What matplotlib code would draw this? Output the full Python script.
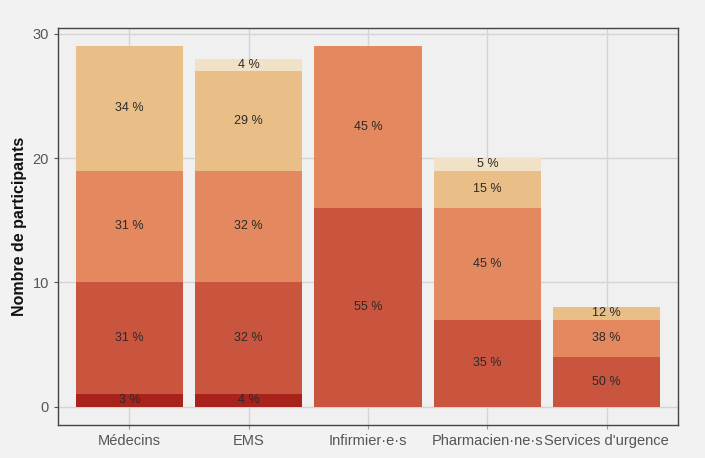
import matplotlib
matplotlib.use('Agg')
import matplotlib.pyplot as plt
import numpy as np

plt.rcParams['font.family'] = ['Liberation Sans', 'DejaVu Sans']

categories = ['Médecins', 'EMS', 'Infirmier·e·s', 'Pharmacien·ne·s', "Services d'urgence"]
# counts per response level, stacked bottom to top
level1 = [1, 1, 0, 0, 0]
level2 = [9, 9, 16, 7, 4]
level3 = [9, 9, 13, 9, 3]
level4 = [10, 8, 0, 3, 1]
level5 = [0, 1, 0, 1, 0]

colors = ['#a9231d', '#c9553f', '#e4895f', '#eabf87', '#f1e1c6']

fig = plt.figure(figsize=(7.05, 4.58), dpi=100)
fig.patch.set_facecolor('#f2f2f2')
ax = fig.add_axes([0.082, 0.072, 0.88, 0.867])
ax.set_facecolor('#f0f0f0')

levels = [level1, level2, level3, level4, level5]
totals = np.sum(levels, axis=0)
x = np.arange(len(categories))
bottom = np.zeros(len(categories))
for vals, c in zip(levels, colors):
    vals = np.array(vals, dtype=float)
    ax.bar(x, vals, bottom=bottom, width=0.9, color=c, zorder=2)
    for i, v in enumerate(vals):
        if v > 0:
            pct = round(100 * v / totals[i])
            ax.text(x[i], bottom[i] + v / 2, f'{pct} %', ha='center', va='center',
                    fontsize=9, color='#2a2a2a', zorder=3)
    bottom += vals

ax.set_xlim(-0.6, 4.6)
ax.set_ylim(-1.48, 30.48)
ax.set_xticks(x)
ax.set_xticklabels(categories, fontsize=10.5, color='#555555')
ax.set_yticks([0, 10, 20, 30])
ax.tick_params(axis='y', labelsize=10.5, labelcolor='#555555', color='#555555', length=3)
ax.tick_params(axis='x', length=3, color='#999999')
ax.grid(True, color='#d4d4d4', linewidth=1, zorder=0)
ax.set_axisbelow(True)
for s in ax.spines.values():
    s.set_color('#444444')
    s.set_linewidth(1)
ax.set_ylabel('Nombre de participants', fontsize=11.5, fontweight='bold', color='#111111')

fig.savefig('out.png', dpi=100, facecolor=fig.get_facecolor())
